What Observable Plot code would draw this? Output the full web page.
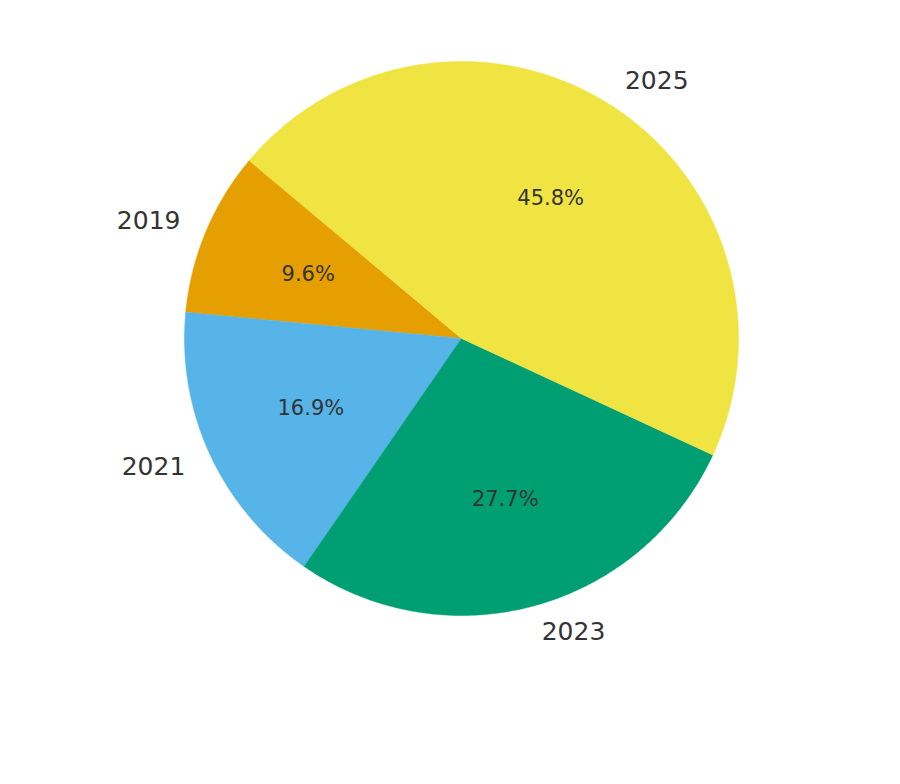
<!DOCTYPE html>
<html><head><meta charset="utf-8">
<script src="https://cdn.jsdelivr.net/npm/d3@7"></script>
<script src="https://cdn.jsdelivr.net/npm/@observablehq/plot@0.6"></script>
<style>body{margin:0;background:#fff}</style>
</head><body><div id="chart"></div>
<script>
const years = ["2019", "2021", "2023", "2025"];
const shares = [9.6, 16.9, 27.7, 45.8];
const colors = ["#E69F00", "#56B4E9", "#009E73", "#F0E442"];

const startAngle = 140; // degrees, counterclockwise
const total = d3.sum(shares);
const slices = [];
const polys = [];
let a0 = startAngle;
years.forEach((y, i) => {
  const span = shares[i] / total * 360;
  const a1 = a0 + span;
  const mid = (a0 + a1) / 2 * Math.PI / 180;
  slices.push({year: y, pct: shares[i].toFixed(1) + "%", cx: Math.cos(mid), cy: Math.sin(mid)});
  polys.push({year: y, x: 0, y: 0});
  const n = Math.max(2, Math.ceil(span * 2));
  for (let k = 0; k <= n; k++) {
    const t = (a0 + span * k / n) * Math.PI / 180;
    polys.push({year: y, x: Math.cos(t), y: Math.sin(t)});
  }
  a0 = a1;
});

const W = 900, H = 784, cx = 461, cy = 338, R = 277;
const right = slices.filter(d => d.cx > 0);
const left = slices.filter(d => d.cx <= 0);
const chart = Plot.plot({
  width: W, height: H,
  margin: 0,
  x: {domain: [-cx / R, (W - cx) / R], axis: null},
  y: {domain: [-(H - cy) / R, cy / R], axis: null},
  color: {domain: years, range: colors},
  style: {fontFamily: "DejaVu Sans, sans-serif", background: "#fff"},
  marks: [
    Plot.line(polys, {x: "x", y: "y", z: "year", fill: "year", stroke: "year", strokeWidth: 0.5, curve: "linear-closed"}),
    Plot.text(right, {x: d => d.cx * 1.1, y: d => d.cy * 1.1, text: "year",
      textAnchor: "start", fontSize: 25, fill: "#333333"}),
    Plot.text(left, {x: d => d.cx * 1.1, y: d => d.cy * 1.1, text: "year",
      textAnchor: "end", fontSize: 25, fill: "#333333"}),
    Plot.text(slices, {x: d => d.cx * 0.6, y: d => d.cy * 0.6, text: "pct", fontSize: 21, fill: "#333333"})
  ]
});
document.getElementById("chart").appendChild(chart);
</script></body></html>
